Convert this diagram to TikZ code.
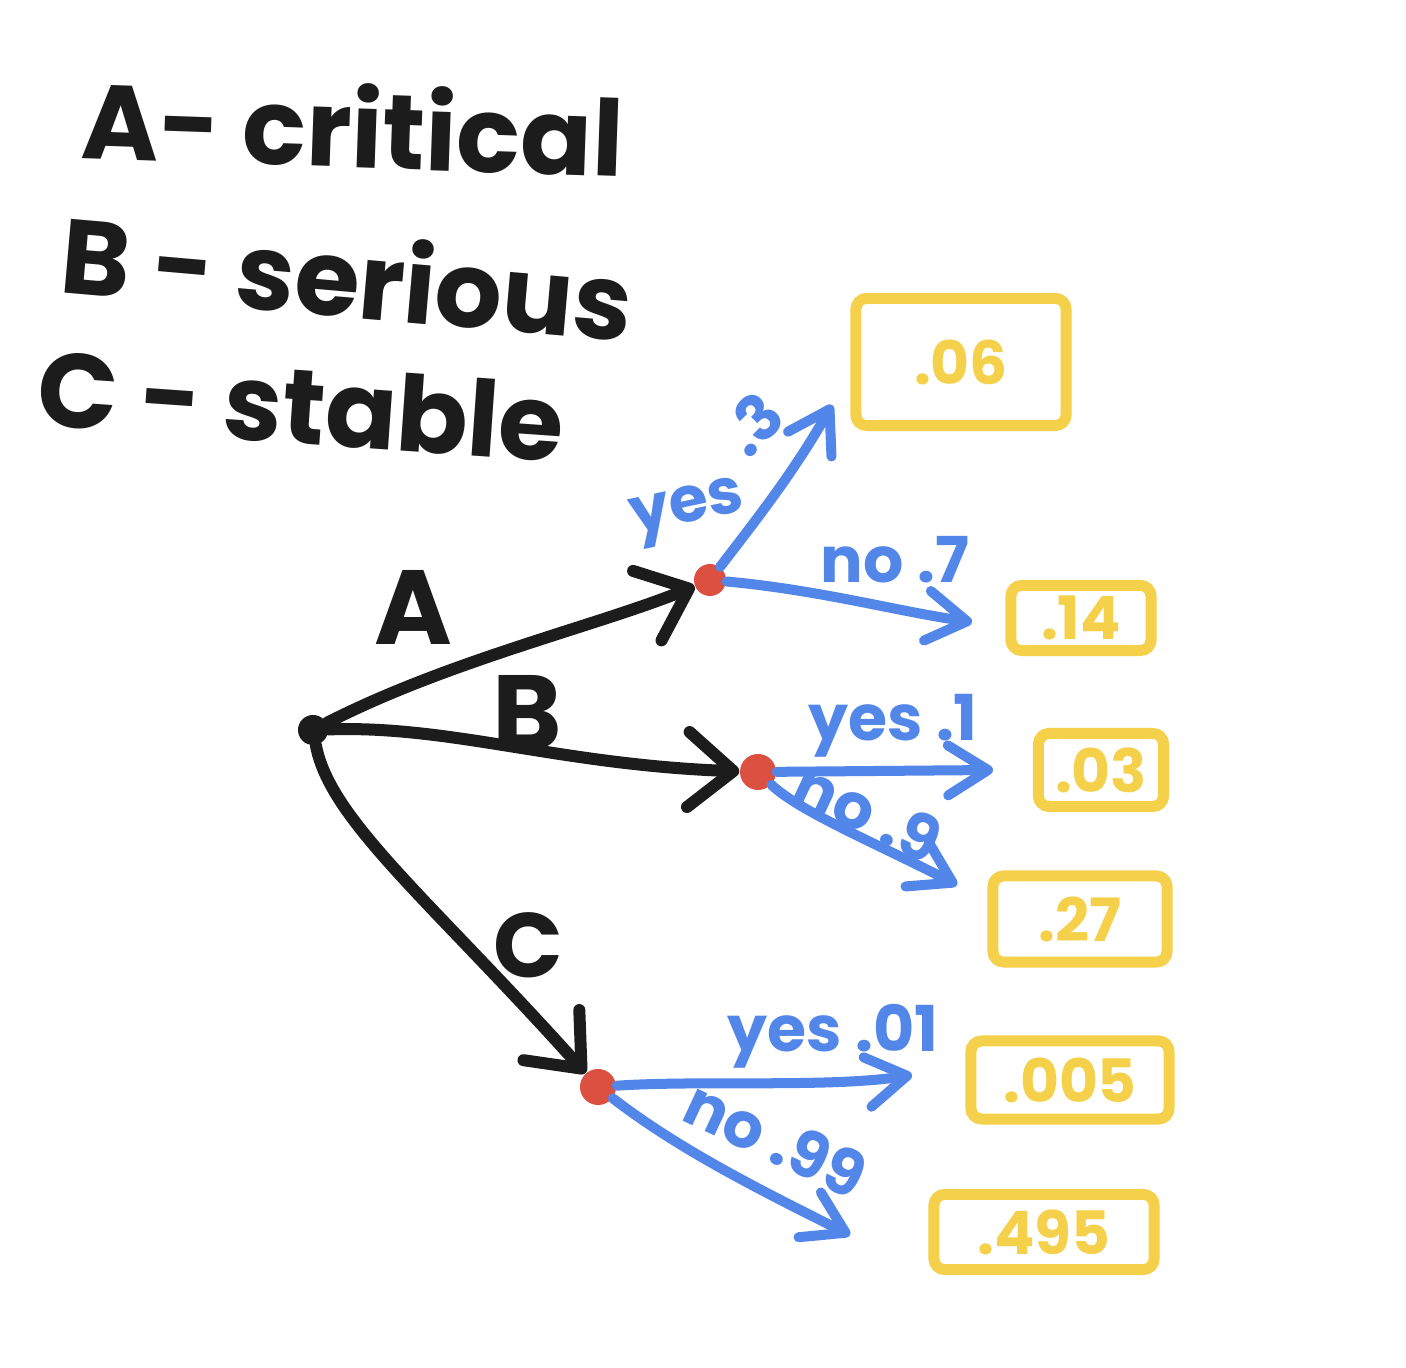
\documentclass[tikz,border=0pt]{standalone}
\usepackage{fontspec}
\setmainfont{Poppins}
\usetikzlibrary{arrows.meta}
\definecolor{ink}{HTML}{1C1C1C}
\definecolor{pen}{HTML}{5286E8}
\definecolor{dotred}{HTML}{DB5040}
\definecolor{gold}{HTML}{F5D04A}
\tikzset{
  legend/.style={anchor=base west, inner sep=0pt, text=ink, font=\bfseries\fontsize{30}{30}\selectfont},
  branchlbl/.style={inner sep=0pt, text=ink, font=\bfseries\fontsize{30}{30}\selectfont},
  problbl/.style={inner sep=0pt, text=pen, font=\bfseries\fontsize{18}{18}\selectfont},
  valbox/.style={draw=gold, line width=0.11cm, rounded corners=3pt, text=gold, inner sep=0pt,
     font=\bfseries\fontsize{17}{17}\selectfont},
  rootdot/.style={circle, fill=ink, inner sep=0pt, minimum size=0.3cm},
  chance/.style={circle, fill=dotred, inner sep=0pt, minimum size=0.32cm},
  blackarrow/.style={draw=ink, line width=0.12cm, line cap=round,
     -{Straight Barb[length=0.45cm,width=0.75cm,round]}},
  bluearrow/.style={draw=pen, line width=0.1cm, line cap=round,
     -{Straight Barb[length=0.4cm,width=0.5cm,round]}},
}
\begin{document}
\begin{tikzpicture}[x=0.01cm,y=-0.01cm]
\useasboundingbox (0,0) rectangle (1406,1368);
\fill[white] (0,0) rectangle (1406,1368);

% legend
\node[legend, rotate=-2] (l1) at (80,158) {A- critical};
\node[legend, rotate=-5] (l2) at (58,292) {B - serious};
\node[legend, rotate=-4] (l3) at (35,425) {C - stable};

% value boxes
\node[valbox, minimum width=2.1cm, minimum height=1.27cm] (v1) at (961,362) {.06};
\node[valbox, minimum width=1.4cm, minimum height=0.65cm] (v2) at (1081,618) {.14};
\node[valbox, minimum width=1.25cm, minimum height=0.73cm] (v3) at (1101,770) {.03};
\node[valbox, minimum width=1.74cm, minimum height=0.86cm] (v4) at (1080,919) {.27};
\node[valbox, minimum width=1.98cm, minimum height=0.78cm] (v5) at (1070,1080) {.005};
\node[valbox, minimum width=2.2cm, minimum height=0.75cm] (v6) at (1044,1232) {.495};

% arrow tips
\coordinate (ayes) at (832,405);
\coordinate (ano) at (972,622);
\coordinate (byes) at (993,770);
\coordinate (bno) at (957,885);
\coordinate (cyes) at (912,1075);
\coordinate (cno) at (850,1235);

% nodes
\node[rootdot] (root) at (313,730) {};
\node[chance] (A) at (710,580) {};
\node[chance, minimum size=0.36cm] (B) at (758,772) {};
\node[chance, minimum size=0.36cm] (C) at (598,1087) {};

% black branches
\draw[blackarrow] (root) .. controls (450,660) and (600,625) .. (A);
\draw[blackarrow] (root) .. controls (450,725) and (560,765) .. (B);
\draw[blackarrow] (root) .. controls (330,820) and (430,900) .. (C);

\node[branchlbl] (la) at (413,607) {A};
\node[branchlbl] (lb) at (527,712) {B};
\node[branchlbl, font=\bfseries\fontsize{26}{26}\selectfont] (lc) at (528,945) {C};

% blue branches
\draw[bluearrow] (A) .. controls (760,515) and (795,470) .. (ayes);
\draw[bluearrow] (A) .. controls (820,590) and (900,612) .. (ano);
\draw[bluearrow] (B) -- (byes);
\draw[bluearrow] (B) .. controls (800,812) and (880,845) .. (bno);
\draw[bluearrow] (C) .. controls (700,1080) and (830,1088) .. (cyes);
\draw[bluearrow] (C) .. controls (680,1150) and (760,1190) .. (cno);

\node[problbl, rotate=12] (pay) at (688,513) {yes};
\node[problbl, rotate=45] (pay3) at (752,424) {.3};
\node[problbl] (pan) at (895,560) {no .7};
\node[problbl] (pby) at (893,726) {yes .1};
\node[problbl, rotate=-25] (pbn) at (868,812) {no .9};
\node[problbl] (pcy) at (833,1036) {yes .01};
\node[problbl, rotate=-25] (pcn) at (776,1139) {no .99};
\end{tikzpicture}
\end{document}
